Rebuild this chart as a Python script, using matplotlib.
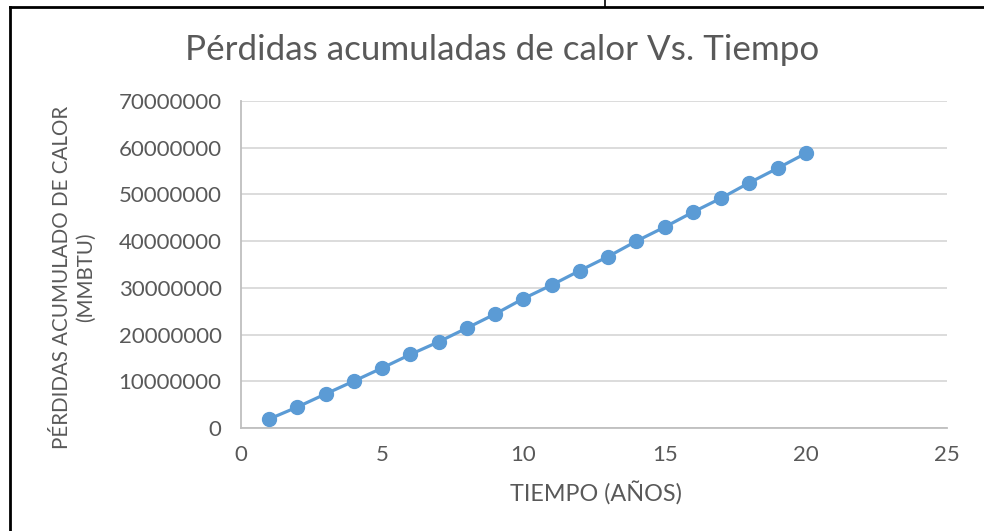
import matplotlib
matplotlib.use("Agg")
import matplotlib.pyplot as plt
from matplotlib.lines import Line2D

# Cumulative heat losses per year
years = [1, 2, 3, 4, 5, 6, 7, 8, 9, 10, 11, 12, 13, 14, 15, 16, 17, 18, 19, 20]
losses = [1.93e6, 4.5e6, 7.3e6, 10.05e6, 12.85e6, 15.75e6, 18.45e6, 21.4e6, 24.4e6, 27.7e6,
          30.6e6, 33.7e6, 36.7e6, 40.0e6, 43.0e6, 46.2e6, 49.2e6, 52.5e6, 55.6e6, 58.8e6]
x_ticks = [0, 5, 10, 15, 20, 25]
y_ticks = [0, 10000000, 20000000, 30000000, 40000000, 50000000, 60000000, 70000000]

title = "Pérdidas acumuladas de calor Vs. Tiempo"
x_label = "TIEMPO (AÑOS)"
y_label = "PÉRDIDAS ACUMULADO DE CALOR\n(MMBTU)"

plt.rcParams['font.family'] = ['Lato', 'DejaVu Sans']
text_color = "#595959"
series_color = "#5B9BD5"

fig = plt.figure(figsize=(9.84, 5.31), dpi=100)
ax = fig.add_axes([241/984, 1 - 428/531, (947 - 241)/984, (428 - 101)/531])

ax.plot(years, losses, color=series_color, linewidth=2.3, marker='o',
        markersize=10, markerfacecolor=series_color, markeredgecolor=series_color,
        solid_capstyle='round', zorder=3)

ax.set_xlim(0, 25)
ax.set_ylim(0, 70000000)
ax.set_xticks(x_ticks)
ax.set_yticks(y_ticks)
ax.set_xticklabels([str(v) for v in x_ticks])
ax.set_yticklabels([str(v) for v in y_ticks])
ax.tick_params(axis='both', length=0, labelsize=16, colors=text_color)
ax.tick_params(axis='x', pad=12)
ax.tick_params(axis='y', pad=14)

ax.grid(axis='y', color="#d9d9d9", linewidth=1.3)
ax.set_axisbelow(True)
for side in ['top', 'right']:
    ax.spines[side].set_visible(False)
for side in ['left', 'bottom']:
    ax.spines[side].set_color("#bfbfbf")
    ax.spines[side].set_linewidth(1.3)

fig.text(502/984, 1 - 50/531, title, ha='center', va='center', fontsize=25.2, color=text_color)
fig.text(596/984, 1 - 494/531, x_label, ha='center', va='center', fontsize=16.8, color=text_color)
fig.text(74/984, 1 - 277/531, y_label, ha='center', va='center', rotation=90,
         fontsize=14.8, color=text_color, linespacing=1.2, multialignment='center')

# Frame lines around the chart
fig.add_artist(Line2D([10/984, 10/984], [0, 1 - 7/531], transform=fig.transFigure,
                      color='black', linewidth=2))
fig.add_artist(Line2D([10/984, 1], [1 - 7/531, 1 - 7/531], transform=fig.transFigure,
                      color='black', linewidth=2))
fig.add_artist(Line2D([605/984, 605/984], [1 - 7/531, 1], transform=fig.transFigure,
                      color='black', linewidth=1.2))

fig.savefig("out.png", dpi=100, facecolor='white')
